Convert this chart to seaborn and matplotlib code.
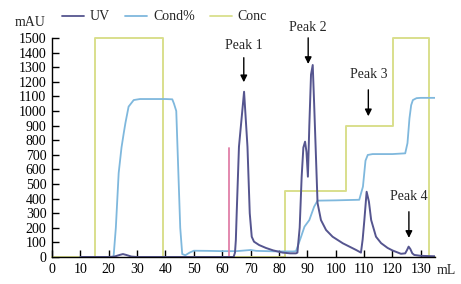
import matplotlib
matplotlib.use("Agg")
import matplotlib.pyplot as plt
import seaborn as sns
from matplotlib.lines import Line2D

# UV trace (mAU)
uv_x = [10, 20, 22, 24, 25, 26, 28, 30, 40, 50, 60, 64, 64.5, 64.8, 65.1, 65.9, 67.7, 68.9, 69.7,
        70.4, 71.2, 73, 75.4, 78, 81.3, 84, 86, 86.5, 87.3, 88, 88.6, 89.2, 89.7, 90.2, 90.7,
        91.3, 91.9, 92.4, 93.6, 94.8, 96.6, 98.9, 102.5, 107.2, 108.9, 109.5, 110.1,
        110.9, 111.7, 112.5, 114.2, 116, 118.3, 120, 123, 124.5, 125.2, 125.7, 126.3, 127, 127.7, 130, 135]
uv_y = [0, 0, 3, 15, 20, 15, 3, 0, 0, 0, 0, 0, 30, 116, 300, 755, 1132, 755, 300,
        139, 105, 82, 62, 45, 30, 25, 25, 30, 200, 550, 750, 790, 720, 550, 900,
        1250, 1315, 1050, 370, 253, 185, 139, 94, 48, 30, 120, 253,
        447, 380, 253, 139, 95, 62, 45, 22, 25, 50, 71, 55, 25, 14, 8, 5]

# conductivity trace
cond_x = [10, 21, 21.7, 22.5, 23.5, 24.5, 25.3, 25.9, 27, 28.8, 31, 40, 42.4, 43, 43.8, 44.5, 45.2,
          45.9, 47, 48.5, 50, 55, 60, 65, 70, 72, 80, 85, 86, 87.8, 89, 90.7, 92.4, 93.6,
          100, 108.3, 109.6, 110.5, 111.3, 113, 120, 124.5, 125.3, 126, 126.6, 127.2, 128.5, 130, 135]
cond_y = [0, 0, 2, 200, 575, 750, 850, 920, 1030, 1075, 1082, 1082, 1080, 1050, 1000, 600, 200,
          20, 12, 30, 43, 42, 40, 40, 48, 42, 38, 38, 40, 139, 208, 253, 345, 386,
          388, 392, 482, 660, 699, 705, 705, 710, 780, 950, 1040, 1075, 1088, 1090, 1090]

# concentration steps
conc_x = [0, 15, 15, 39, 39, 82, 82, 103.5, 103.5, 120.2, 120.2, 133, 133, 135]
conc_y = [0, 0, 1500, 1500, 0, 0, 450, 450, 900, 900, 1500, 1500, 0, 0]

# injection mark
inj_x = [62.4, 62.4]
inj_y = [0, 745]

peak_labels = ["Peak 1", "Peak 2", "Peak 3", "Peak 4"]
peak_x = [67.6, 90.3, 111.5, 125.8]
peak_text_y = [1452, 1570, 1247, 413]
peak_tail_y = [1384, 1520, 1164, 329]
peak_head_y = [1178, 1303, 945, 112]

uv_color = "#55558f"
cond_color = "#7fb8dd"
conc_color = "#d9df8c"
inj_color = "#e07fa8"

sns.set_style("ticks")
plt.rcParams["font.family"] = ["Liberation Serif", "DejaVu Serif"]

fig = plt.figure(figsize=(4.61, 2.84), dpi=100)
ax = fig.add_axes([52 / 461, 1 - 257 / 284, (435 - 52) / 461, (257 - 38) / 284])

sns.lineplot(x=conc_x, y=conc_y, sort=False, estimator=None, color=conc_color, lw=1.4, ax=ax, clip_on=False)
sns.lineplot(x=cond_x, y=cond_y, sort=False, estimator=None, color=cond_color, lw=1.3, ax=ax)
sns.lineplot(x=inj_x, y=inj_y, sort=False, estimator=None, color=inj_color, lw=1.3, ax=ax)
sns.lineplot(x=uv_x, y=uv_y, sort=False, estimator=None, color=uv_color, lw=1.4, ax=ax)

for lab, px, ty, t0, t1 in zip(peak_labels, peak_x, peak_text_y, peak_tail_y, peak_head_y):
    ax.annotate("", xy=(px, t1), xytext=(px, t0),
                arrowprops=dict(arrowstyle="-|>", color="black", lw=1.0, mutation_scale=10),
                annotation_clip=False)
    ax.text(px, ty, lab, ha="center", va="center", fontsize=10, clip_on=False)

ax.set_xlim(0, 135)
ax.set_ylim(0, 1500)
ax.set_xticks(range(0, 131, 10))
ax.set_yticks(range(0, 1501, 100))
ax.tick_params(direction="in", length=5, width=1, labelsize=10, pad=4, colors="black")
for s in ["top", "right"]:
    ax.spines[s].set_visible(False)
for s in ["left", "bottom"]:
    ax.spines[s].set_color("black")
    ax.spines[s].set_linewidth(1)

fig.text(30 / 461, 1 - 22 / 284, "mAU", ha="center", va="center", fontsize=10)
fig.text(446 / 461, 1 - 270 / 284, "mL", ha="center", va="center", fontsize=10)

handles = [Line2D([0], [0], color=uv_color, lw=1.3),
           Line2D([0], [0], color=cond_color, lw=1.3),
           Line2D([0], [0], color=conc_color, lw=1.3)]
fig.legend(handles, ["UV", "Cond%", "Conc"], loc="center left", bbox_to_anchor=(62 / 461, 1 - 17 / 284),
           ncol=3, frameon=False, fontsize=10, handlelength=1.6, handletextpad=0.4, columnspacing=1.1,
           borderaxespad=0, borderpad=0)

fig.savefig("out.png", dpi=100)
